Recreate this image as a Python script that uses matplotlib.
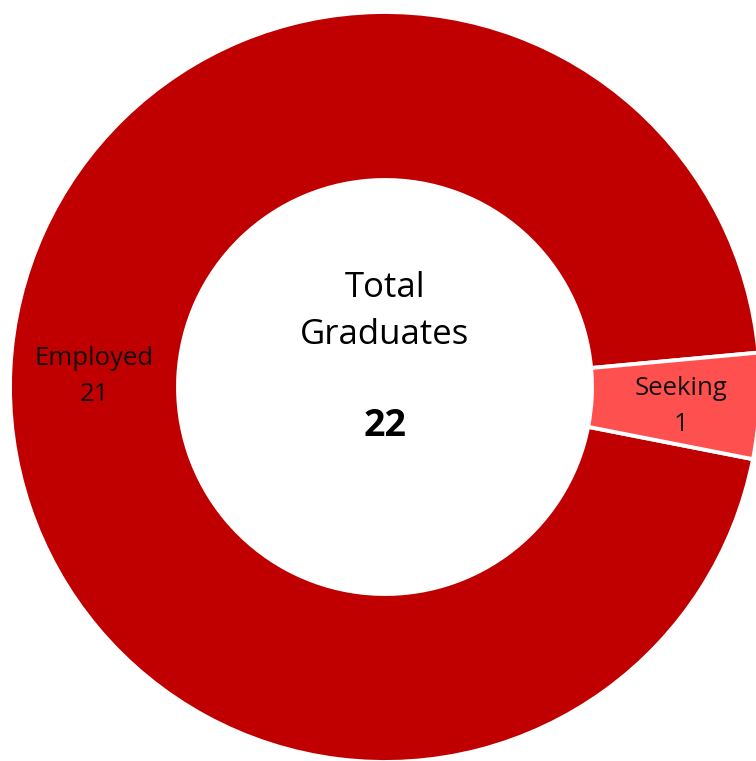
import matplotlib
matplotlib.use("Agg")
import matplotlib.pyplot as plt

categories = ["Employed", "Seeking"]
values = [21, 1]
colors = ["#C00000", "#FF5050"]
center_title = "Total\nGraduates"
total = sum(values)

plt.rcParams['font.family'] = ['Open Sans', 'DejaVu Sans']

W, H = 756, 761
fig = plt.figure(figsize=(W / 100, H / 100), dpi=100)
cx, cy, R = 385, 387, 375
ax = fig.add_axes([(cx - R) / W, (H - cy - R) / H, 2 * R / W, 2 * R / H])

inner = 0.552
labels = [f"{c}\n{v}" for c, v in zip(categories, values)]
wedges, texts = ax.pie(values, colors=colors, startangle=-11.1, counterclock=False,
                       radius=1, labels=labels, labeldistance=(1 + inner) / 2,
                       wedgeprops=dict(width=1 - inner, edgecolor='white', linewidth=2.8),
                       textprops=dict(fontsize=18.5, color='#111111', linespacing=1.55))
ax.set_xlim(-1, 1)
ax.set_ylim(-1, 1)
ax.set_aspect('equal')
ax.axis('off')
for t in texts:
    x, y = t.get_position()
    t.set_position((x + (0.015 if x > 0 else 0.0), y - 0.012))
    t.set_ha('center')
    t.set_va('center')
    t.set_clip_on(False)
for w in wedges:
    w.set_clip_on(False)

ax.text(0, 0.2, center_title, ha='center', va='center', fontsize=25, linespacing=1.5)
ax.text(0, -0.105, str(total), ha='center', va='center', fontsize=27, fontweight='bold')

fig.savefig("out.png", dpi=100, facecolor='white')
